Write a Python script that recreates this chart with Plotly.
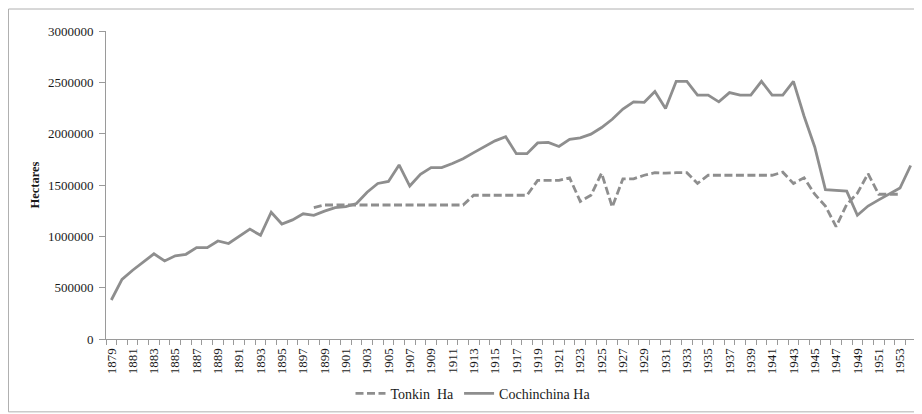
import plotly.graph_objects as go

years = list(range(1879, 1955))

cochinchina = [380000, 580000, 670000, 750000, 830000, 760000, 810000, 825000, 890000, 890000,
               955000, 930000, 1000000, 1070000, 1010000, 1235000, 1120000, 1160000, 1220000, 1205000,
               1245000, 1280000, 1290000, 1320000, 1430000, 1515000, 1535000, 1695000, 1490000, 1605000,
               1670000, 1670000, 1710000, 1755000, 1815000, 1870000, 1930000, 1970000, 1805000, 1805000,
               1910000, 1915000, 1875000, 1945000, 1960000, 1995000, 2060000, 2140000, 2240000, 2310000,
               2305000, 2410000, 2245000, 2510000, 2510000, 2375000, 2375000, 2310000, 2400000, 2375000,
               2375000, 2510000, 2375000, 2375000, 2510000, 2170000, 1870000, 1455000, 1445000, 1440000,
               1205000, 1295000, 1355000, 1410000, 1470000, 1690000]

tonkin_years = list(range(1898, 1954))
tonkin = [1280000, 1305000, 1305000, 1305000, 1305000, 1305000, 1305000, 1305000, 1305000, 1305000,
          1305000, 1305000, 1305000, 1305000, 1305000, 1400000, 1400000, 1400000, 1400000, 1400000,
          1400000, 1545000, 1545000, 1545000, 1570000, 1340000, 1400000, 1615000, 1285000, 1560000,
          1560000, 1595000, 1620000, 1615000, 1620000, 1620000, 1515000, 1595000, 1595000, 1595000,
          1595000, 1595000, 1595000, 1595000, 1625000, 1515000, 1570000, 1410000, 1295000, 1095000,
          1310000, 1420000, 1610000, 1410000, 1410000, 1410000]

tick_years = list(range(1879, 1955, 2))

line_color = "#8e8e8e"
font_family = "Times New Roman, Liberation Serif, serif"
text_color = "#1a1a1a"

fig = go.Figure()
fig.add_trace(go.Scatter(x=tonkin_years, y=tonkin, mode="lines", name="Tonkin  Ha",
                         line=dict(color=line_color, width=2.8, dash="8px,3.5px")))
fig.add_trace(go.Scatter(x=years, y=cochinchina, mode="lines", name="Cochinchina Ha",
                         line=dict(color=line_color, width=2.8)))

W, H = 922, 414
ml, mr, mt, mb = 98, 14, 23, 76
pw, ph = W - ml - mr, H - mt - mb

fig.update_layout(
    width=W, height=H,
    margin=dict(l=ml, r=mr, t=mt, b=mb, pad=0),
    paper_bgcolor="white", plot_bgcolor="white",
    font=dict(family=font_family, size=13, color=text_color),
    showlegend=True,
    legend=dict(orientation="h", x=(465 - ml) / pw, xanchor="center", y=(338 - 394) / ph, yanchor="middle",
                font=dict(family=font_family, size=14, color=text_color), itemwidth=30,
                bgcolor="rgba(0,0,0,0)"),
    xaxis=dict(range=[1878.5, 1954.5], tickmode="array", tickvals=tick_years,
               ticktext=[str(y) for y in tick_years], tickangle=-90, ticks="",
               showline=True, linecolor="#9a9a9a", linewidth=1, showgrid=False, zeroline=False,
               tickfont=dict(family=font_family, size=13, color=text_color),
               ticklabelstandoff=3,
               minor=dict(tickmode="linear", tick0=1878.5, dtick=1, ticks="outside",
                          ticklen=5, tickcolor="#9a9a9a", showgrid=False)),
    yaxis=dict(range=[0, 3000000], tickmode="linear", tick0=0, dtick=500000, tickformat="d",
               ticks="outside", ticklen=6, tickcolor="#9a9a9a",
               showline=True, linecolor="#9a9a9a", linewidth=1, showgrid=False, zeroline=False,
               tickfont=dict(family=font_family, size=13, color=text_color),
               ticklabelstandoff=3,
               title=dict(text="<b>Hectares</b>", standoff=5,
                          font=dict(family=font_family, size=12.5, color=text_color)),
               automargin=False),
    shapes=[dict(type="rect", xref="paper", yref="paper",
                 x0=-(ml - 0.5) / pw, x1=1 + (mr - 1.5) / pw,
                 y0=-(mb - 1.5) / ph, y1=1 + (mt - 0.5) / ph,
                 line=dict(color="#b0b0b0", width=1), fillcolor="rgba(0,0,0,0)", layer="below")],
)

fig.write_html("out.html")
